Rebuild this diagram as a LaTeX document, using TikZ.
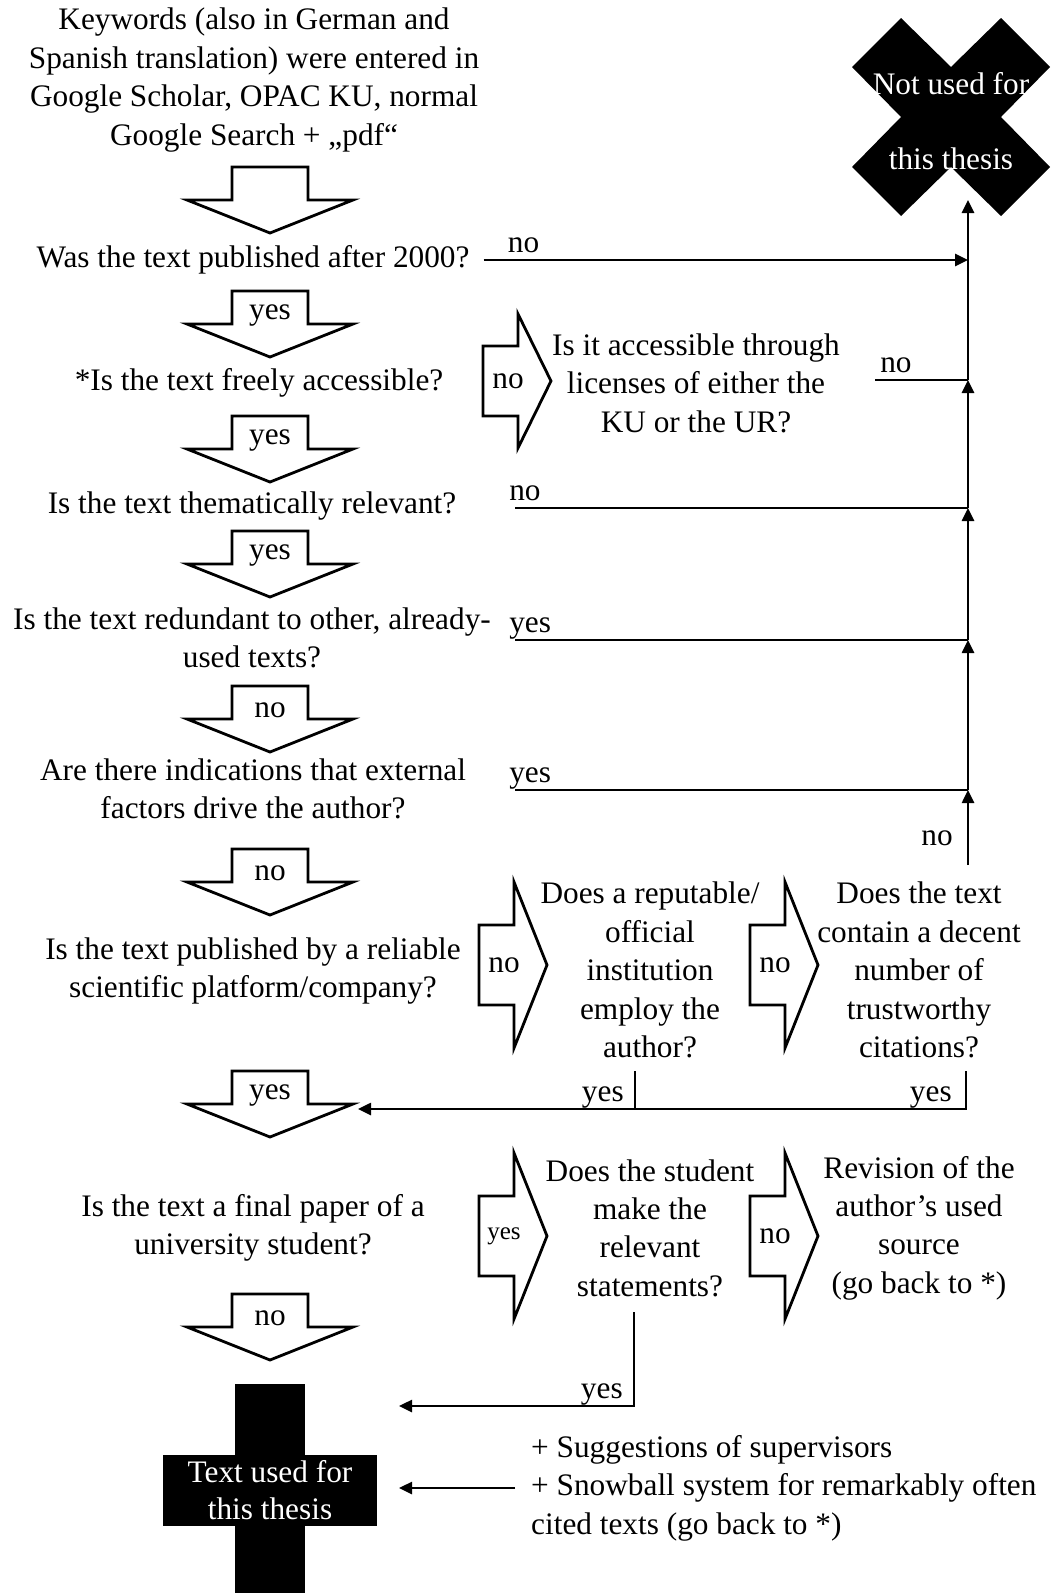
\documentclass[tikz,border=0pt]{standalone}
\usepackage{fontspec}
\setmainfont{Liberation Serif}
\usetikzlibrary{positioning, arrows.meta}

\begin{document}
\begin{tikzpicture}[x=1pt, y=-1pt, font=\fontsize{31.3}{38.4}\selectfont,
    txt/.style={align=center, inner sep=5pt},
    lbl/.style={inner sep=4pt, text depth=0.22em},
    block/.style={draw, line width=2.8pt, fill=white, line join=miter},
    wire/.style={line width=2.6pt},
    flow/.style={wire, -{Triangle[length=13pt, width=12pt]}}]
    \useasboundingbox (0,0) rectangle (1051,1593);

    % left column
    \node[txt] (kw) at (254,80) {Keywords (also in German and\\Spanish translation) were entered in\\Google Scholar, OPAC KU, normal\\Google Search + „pdf“};
    \node[txt] (q1) at (253,260) {Was the text published after 2000?};
    \node[txt] (q2) at (259,383) {*Is the text freely accessible?};
    \node[txt] (q3) at (252,506) {Is the text thematically relevant?};
    \node[txt] (q4) at (252,638) {Is the text redundant to other, already-\\used texts?};
    \node[txt] (q5) at (253,789) {Are there indications that external\\factors drive the author?};
    \node[txt] (q6) at (253,971) {Is the text published by a reliable\\scientific platform/company?};
    \node[txt] (q7) at (253,1228) {Is the text a final paper of a\\university student?};

    \foreach \n/\y/\t in {1/167/, 2/291/yes, 3/416/yes, 4/531/yes, 5/686/no, 6/849/no, 7/1071/yes, 8/1294/no} {
      \draw[block] (232,\y) -- (308,\y) -- (308,\y+33) -- (353,\y+33) -- (270,\y+66) -- (187,\y+33) -- (232,\y+33) -- cycle;
      \node[inner sep=2pt] (dn\n) at (270,\y+24) {\t};
    }

    % right column
    \node[txt] (acc) at (696,383) {Is it accessible through\\licenses of either the\\KU or the UR?};
    \node[txt] (inst) at (650,970) {Does a reputable/\\official\\institution\\employ the\\author?};
    \node[txt] (cit) at (919,970) {Does the text\\contain a decent\\number of\\trustworthy\\citations?};
    \node[txt] (stud) at (650,1228) {Does the student\\make the\\relevant\\statements?};
    \node[txt] (rev) at (919,1228) {Revision of the\\author’s used\\source\\(go back to *)};
    \node[txt, align=left, anchor=west] (list) at (526,1488) {+ Suggestions of supervisors\\+ Snowball system for remarkably often\\cited texts (go back to *)};

    \foreach \n/\x/\y/\s/\h/\t in {a/483/381/35/67/no, b/479/965/40/83/no, c/750/965/40/83/no, d/479/1236/40/83/{\fontsize{25}{28}\selectfont yes}, e/750/1236/40/83/no} {
      \draw[block] (\x,\y-\s) -- (\x+35,\y-\s) -- (\x+35,\y-\h) -- (\x+68,\y) -- (\x+35,\y+\h) -- (\x+35,\y+\s) -- (\x,\y+\s) -- cycle;
      \node[inner sep=2pt] (rt\n) at (\x+25,\y) {\t};
    }

    % end marks
    \fill[shift={(951,117)}] (-99,-50) -- (-50,-99) -- (0,-50) -- (50,-99) -- (99,-50) -- (50,0) -- (99,50) -- (50,99) -- (0,50) -- (-50,99) -- (-99,50) -- (-50,0) -- cycle;
    \node[align=center, text=white, font=\fontsize{31.3}{75}\selectfont] (notused) at (951,121) {Not used for\\this thesis};
    \fill (235,1384) rectangle (305,1593);
    \node[fill=black, text=white, align=center, minimum width=214pt, minimum height=71pt, inner sep=0pt, font=\fontsize{31.3}{37}\selectfont] (used) at (270,1490) {Text used for\\this thesis};

    % connectors
    \coordinate (rail) at (968,200);
    \coordinate (an) at (875,380);
    \coordinate (t3) at (515,508);
    \coordinate (t4) at (515,640);
    \coordinate (t5) at (515,790);
    \coordinate (j5) at (968,865);
    \coordinate (iy) at (635,1071);
    \coordinate (cy) at (966,1071);
    \coordinate (in7) at (358,1109);
    \coordinate (sy) at (634,1312);
    \coordinate (in8) at (399,1406);

    \draw[flow] ([xshift=9pt]q1.east) -- (q1.east -| rail) node[lbl, pos=0, anchor=south west, xshift=19pt] {no};
    \draw[wire] (an) -- (an -| rail) node[lbl, pos=0, anchor=south west] {no};
    \draw[wire] (t3) -- (t3 -| rail) node[lbl, pos=0, anchor=south west, xshift=-11pt] {no};
    \draw[wire] (t4) -- (t4 -| rail) node[lbl, pos=0, anchor=south west, xshift=-11pt] {yes};
    \draw[wire] (t5) -- (t5 -| rail) node[lbl, pos=0, anchor=south west, xshift=-11pt] {yes};
    \draw[flow] (an -| rail) -- (rail);
    \draw[flow] (t3 -| rail) -- (an -| rail);
    \draw[flow] (t4 -| rail) -- (t3 -| rail);
    \draw[flow] (t5 -| rail) -- (t4 -| rail);
    \draw[flow] (j5) -- (t5 -| rail) node[lbl, pos=0.35, anchor=east, xshift=-10pt] {no};

    \draw[wire] (iy) -- (iy |- in7) node[lbl, pos=1, anchor=south east, xshift=-6pt] {yes};
    \draw[flow] (cy) |- (in7) node[lbl, pos=0.5, anchor=south east, xshift=-9pt] {yes};
    \draw[flow] (sy) |- (in8) node[lbl, pos=0.5, anchor=south east, xshift=-6pt] {yes};
    \draw[flow] ([xshift=-11pt]list.west) -- (list.west -| in8);
\end{tikzpicture}
\end{document}
